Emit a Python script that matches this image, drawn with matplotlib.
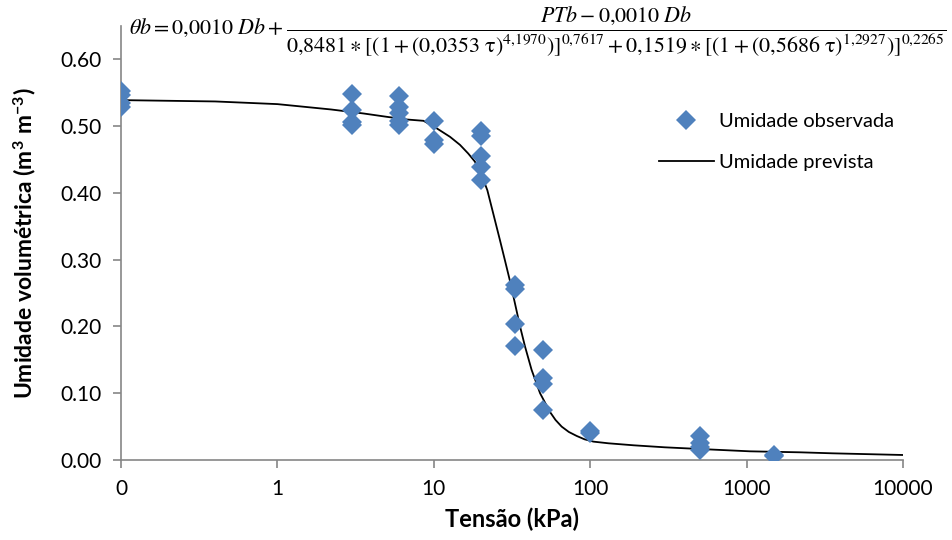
import matplotlib
matplotlib.use("Agg")
from matplotlib import pyplot as plt
from matplotlib.lines import Line2D

plt.rcParams["font.family"] = ["Lato", "DejaVu Sans"]
plt.rcParams["mathtext.fontset"] = "stix"

# observed soil water content at each tension (kPa)
tensao_obs = [0.1, 0.1, 0.1, 0.1,
              3, 3, 3, 3,
              6, 6, 6, 6, 6,
              10, 10, 10,
              20, 20, 20, 20, 20,
              33, 33, 33, 33,
              50, 50, 50, 50,
              100, 100,
              500, 500, 500, 500,
              1500, 1500]
umidade_obs = [0.553, 0.547, 0.534, 0.528,
               0.548, 0.524, 0.506, 0.502,
               0.545, 0.528, 0.519, 0.508, 0.502,
               0.508, 0.479, 0.474,
               0.493, 0.486, 0.455, 0.439, 0.419,
               0.262, 0.256, 0.203, 0.171,
               0.165, 0.123, 0.114, 0.075,
               0.044, 0.041,
               0.036, 0.025, 0.020, 0.015,
               0.007, 0.006]

# fitted retention curve
tensao_prev = [0.1, 0.4, 1.0, 2.2, 3.55, 5.0, 6.7, 8.6, 10.4, 12.7, 14.7,
               16.6, 18.3, 20.2, 22.0, 24.0, 26.5, 28.5, 30.7, 33.0, 35.6,
               38.3, 42.2, 47.8, 55.3, 60.0, 65.7, 73.0, 82, 92, 105, 131,
               190, 300, 500, 1050, 2200, 3550, 10000]
umidade_prev = [0.539, 0.537, 0.533, 0.525, 0.519, 0.514, 0.510, 0.508,
                0.497, 0.484, 0.472, 0.459, 0.447, 0.427, 0.404, 0.369,
                0.329, 0.299, 0.268, 0.235, 0.200, 0.170, 0.135, 0.100,
                0.072, 0.060, 0.050, 0.042, 0.036, 0.031, 0.0275, 0.025,
                0.022, 0.019, 0.0165, 0.013, 0.0115, 0.010, 0.0075]

xticks = [0.1, 1, 10, 100, 1000, 10000]
xtick_labels = ["0", "1", "10", "100", "1000", "10000"]
yticks = [0.0, 0.1, 0.2, 0.3, 0.4, 0.5, 0.6]

AXIS_GRAY = "#868686"
BLUE = "#4F81BD"

fig = plt.figure(figsize=(9.52, 5.40), dpi=100)
ax = fig.add_axes([121 / 952, 1 - 460 / 540, 782 / 952, 434 / 540])

ax.plot(tensao_prev, umidade_prev, color="black", linewidth=1.3, zorder=2)
ax.plot(tensao_obs, umidade_obs, linestyle="none", marker="D", markersize=10,
        markerfacecolor=BLUE, markeredgewidth=0, zorder=3)

ax.set_xscale("log")
ax.set_xlim(0.1, 10000)
ax.set_ylim(0, 0.65)
ax.set_xticks(xticks)
ax.set_xticklabels(xtick_labels)
ax.minorticks_off()
ax.set_yticks(yticks)
ax.set_yticklabels([f"{v:.2f}" for v in yticks])

for side in ["top", "right"]:
    ax.spines[side].set_visible(False)
for side in ["left", "bottom"]:
    ax.spines[side].set_color(AXIS_GRAY)
    ax.spines[side].set_linewidth(1.2)
ax.tick_params(axis="both", direction="out", length=6, width=1.2,
               color=AXIS_GRAY, labelsize=15, pad=8)

ax.set_xlabel("Tensão (kPa)", fontsize=17, fontweight="bold", labelpad=6)
ax.set_ylabel(r"Umidade volumétrica (m$^\mathregular{3}$ m$^\mathregular{-3}$)",
              fontsize=16.5, fontweight="bold", labelpad=15)

handles = [
    Line2D([], [], linestyle="none", marker="D", markersize=10,
           markerfacecolor=BLUE, markeredgewidth=0),
    Line2D([], [], color="black", linewidth=1.3),
]
ax.legend(handles, ["Umidade observada", "Umidade prevista"],
          loc="upper left", bbox_to_anchor=(641 / 952, 1 - 95 / 540),
          bbox_transform=fig.transFigure, frameon=False, fontsize=14.5,
          handlelength=2.7, handletextpad=0.25, labelspacing=1.2)

equacao = (r"$\theta b = \text{0,0010}\ Db + "
           r"\dfrac{PTb - \text{0,0010}\ Db}"
           r"{\text{0,8481} \ast [(1 + (\text{0,0353}\ \mathrm{\tau})^{\text{4,1970}})]^{\text{0,7617}}"
           r" + \text{0,1519} \ast [(1 + (\text{0,5686}\ \mathrm{\tau})^{\text{1,2927}})]^{\text{0,2265}}}$")
fig.text(129 / 952, 1 - 31 / 540, equacao, fontsize=15.8, ha="left", va="center")

fig.savefig("out.png", dpi=100)
